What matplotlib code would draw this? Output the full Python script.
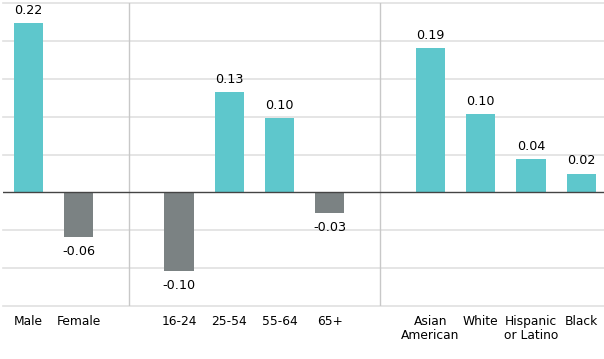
import numpy as np
import matplotlib
matplotlib.use("Agg")
import matplotlib.pyplot as plt

plt.rcParams['font.family'] = ['DejaVu Sans']

labels = ["Male", "Female", "16-24", "25-54", "55-64", "65+",
          "Asian\nAmerican", "White", "Hispanic\nor Latino", "Black"]
values = [0.224, -0.059, -0.104, 0.132, 0.098, -0.027, 0.19, 0.103, 0.044, 0.025]
value_labels = ["0.22", "-0.06", "-0.10", "0.13", "0.10", "-0.03",
                "0.19", "0.10", "0.04", "0.02"]
positions = [0, 1, 3, 4, 5, 6, 8, 9, 10, 11]
separators = [2, 7]

teal = "#5ec7cc"
grey = "#7b8283"
colors = [teal if v > 0 else grey for v in values]

fig = plt.figure(figsize=(6.04, 3.59), dpi=100)
ax = fig.add_axes([0.005, 0.147, 0.995, 0.845])

for y in np.arange(-0.15, 0.26, 0.05):
    if abs(y) > 1e-9:
        ax.axhline(y, color="#e0e0e0", lw=1.2, zorder=0, clip_on=False)
for s in separators:
    ax.axvline(s, color="#c8c8c8", lw=1, zorder=0)
ax.axhline(0, color="#444444", lw=1, zorder=3)

ax.bar(positions, values, width=0.58, color=colors, zorder=2)
for p, v, t in zip(positions, values, value_labels):
    if v > 0:
        ax.text(p, v + 0.008, t, ha="center", va="bottom", fontsize=9.2)
    else:
        ax.text(p, v - 0.01, t, ha="center", va="top", fontsize=9.2)

ax.set_xlim(-0.5, 11.45)
ax.set_ylim(-0.15, 0.25)
ax.set_xticks(positions)
ax.set_xticklabels(labels, fontsize=8.8, linespacing=1.1)
ax.tick_params(axis="x", length=0, pad=6)
ax.set_yticks([])
for sp in ax.spines.values():
    sp.set_visible(False)

fig.savefig("out.png", dpi=100)
